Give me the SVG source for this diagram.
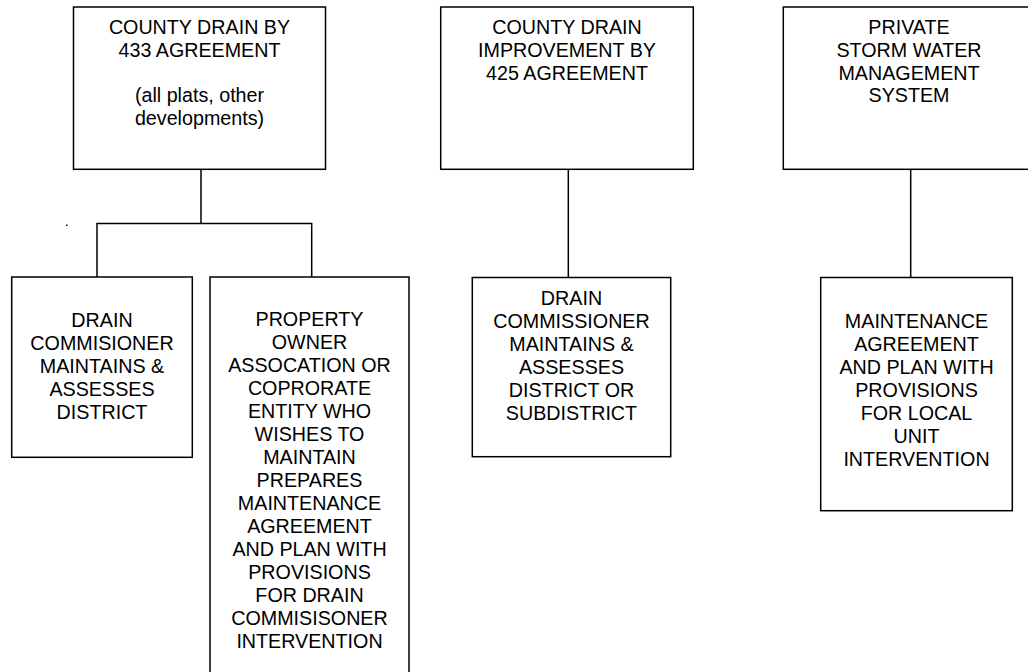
<svg xmlns="http://www.w3.org/2000/svg" width="1028" height="672" viewBox="0 0 1028 672">
<style>
.box{fill:#fff;stroke:#000;stroke-width:1.5}
.ln{fill:none;stroke:#000;stroke-width:1.5}
text{font-family:"Liberation Sans",Arial,sans-serif;font-size:19.7px;fill:#000;text-anchor:middle}
</style>
<rect width="1028" height="672" fill="#fff"/>
<g id="connectors">
<path class="ln" d="M201,169.5V223.5M97,277V223.5H311.7V277"/>
<path class="ln" d="M568.3,169.5V277.5"/>
<path class="ln" d="M910.7,169.5V277.5"/>
</g>
<rect x="66" y="224.5" width="1.5" height="1.5" fill="#000"/>
<g id="n1">
<rect class="box" x="73.5" y="7" width="252" height="162.3"/>
<text x="199.5" y="34.3">COUNTY DRAIN BY</text>
<text x="199.5" y="57">433 AGREEMENT</text>
<text x="199.5" y="102.4">(all plats, other</text>
<text x="199.5" y="125">developments)</text>
</g>
<g id="n2">
<rect class="box" x="440.7" y="7" width="252.6" height="162.3"/>
<text x="567" y="34.3">COUNTY DRAIN</text>
<text x="567" y="57">IMPROVEMENT BY</text>
<text x="567" y="79.7">425 AGREEMENT</text>
</g>
<g id="n3">
<rect class="box" x="783.3" y="7" width="252" height="162.3"/>
<text x="909" y="34.3">PRIVATE</text>
<text x="909" y="57">STORM WATER</text>
<text x="909" y="79.7">MANAGEMENT</text>
<text x="909" y="102.4">SYSTEM</text>
</g>
<g id="n4">
<rect class="box" x="11.7" y="277" width="180.6" height="180.3"/>
<text x="102" y="326.5">DRAIN</text>
<text x="102" y="349.5">COMMISIONER</text>
<text x="102" y="372.5">MAINTAINS &amp;</text>
<text x="102" y="395.5">ASSESSES</text>
<text x="102" y="418.5">DISTRICT</text>
</g>
<g id="n5">
<rect class="box" x="210" y="277" width="199" height="410"/>
<text x="309.5" y="326">PROPERTY</text>
<text x="309.5" y="349">OWNER</text>
<text x="309.5" y="372">ASSOCATION OR</text>
<text x="309.5" y="395">COPRORATE</text>
<text x="309.5" y="418">ENTITY WHO</text>
<text x="309.5" y="441">WISHES TO</text>
<text x="309.5" y="464">MAINTAIN</text>
<text x="309.5" y="487">PREPARES</text>
<text x="309.5" y="510">MAINTENANCE</text>
<text x="309.5" y="533">AGREEMENT</text>
<text x="309.5" y="556">AND PLAN WITH</text>
<text x="309.5" y="579">PROVISIONS</text>
<text x="309.5" y="602">FOR DRAIN</text>
<text x="309.5" y="625">COMMISISONER</text>
<text x="309.5" y="648">INTERVENTION</text>
</g>
<g id="n6">
<rect class="box" x="472.3" y="277.5" width="198.4" height="179.2"/>
<text x="571.5" y="305">DRAIN</text>
<text x="571.5" y="328">COMMISSIONER</text>
<text x="571.5" y="351">MAINTAINS &amp;</text>
<text x="571.5" y="374">ASSESSES</text>
<text x="571.5" y="397">DISTRICT OR</text>
<text x="571.5" y="420">SUBDISTRICT</text>
</g>
<g id="n7">
<rect class="box" x="820.7" y="277.5" width="191.6" height="233.2"/>
<text x="916.5" y="328">MAINTENANCE</text>
<text x="916.5" y="351">AGREEMENT</text>
<text x="916.5" y="374">AND PLAN WITH</text>
<text x="916.5" y="397">PROVISIONS</text>
<text x="916.5" y="420">FOR LOCAL</text>
<text x="916.5" y="443">UNIT</text>
<text x="916.5" y="466">INTERVENTION</text>
</g>
</svg>
